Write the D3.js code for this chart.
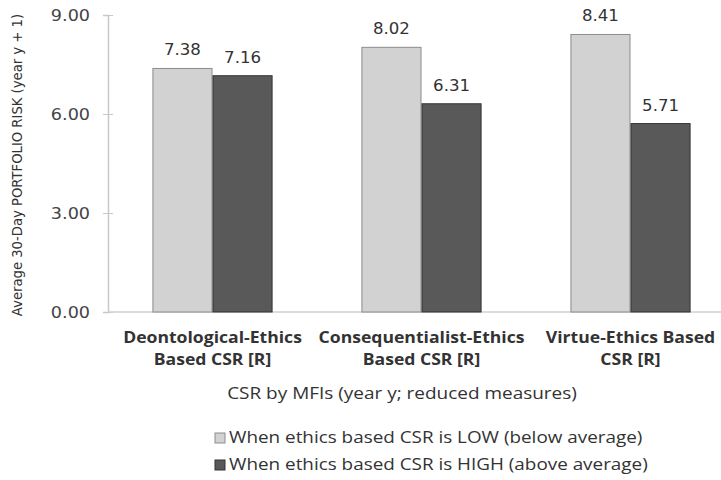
<!DOCTYPE html>
<html>
<head>
<meta charset="utf-8">
<script src="https://cdn.jsdelivr.net/npm/d3@7"></script>
<style>
body { margin: 0; background: #fff; }
</style>
</head>
<body>
<div class="canvas"></div>
<script>
const categories = [
  ["Deontological-Ethics", "Based CSR [R]"],
  ["Consequentialist-Ethics", "Based CSR [R]"],
  ["Virtue-Ethics Based", "CSR [R]"]
];
const seriesNames = [
  "When ethics based CSR is LOW (below average)",
  "When ethics based CSR is HIGH (above average)"
];
const lowValues = [7.38, 8.02, 8.41];
const highValues = [7.16, 6.31, 5.71];
const yTicks = [0, 3, 6, 9];

const w = 721, h = 480;
const margin = {top: 15, left: 108, bottom: 168};

const fills = ["#d2d2d2", "#595959"];
const strokes = ["#8c8c8c", "#333333"];

// the original picture is a bit wider than tall, so some text gets a small x stretch
const sx = 1.18;
const place = (x, y, s) => "translate(" + x + "," + y + ") scale(" + s + ",1)";

const svg = d3.select(".canvas").append("svg")
  .attr("width", w).attr("height", h);

const x0 = d3.scaleBand()
  .domain(d3.range(categories.length))
  .range([margin.left, margin.left + 3 * 209])
  .paddingInner(0.425).paddingOuter(0.2125);

const x1 = d3.scaleBand()
  .domain([0, 1])
  .range([0, x0.bandwidth()]);

const y = d3.scaleLinear()
  .domain([0, 9])
  .range([h - margin.bottom, margin.top]);

// y axis
const yAxis = svg.append("g")
  .attr("transform", "translate(" + margin.left + ",0)")
  .call(d3.axisLeft(y).tickValues(yTicks).tickFormat(d3.format(".2f")).tickSize(5).tickPadding(13));
yAxis.select(".domain").attr("stroke", "#c8c8c8").attr("stroke-width", 1.5);
yAxis.selectAll(".tick line").attr("stroke", "#c8c8c8").attr("x2", 5).attr("x1", -5);
yAxis.selectAll("text")
  .attr("font-family", "DejaVu Sans").attr("font-size", 16).attr("fill", "#444")
  .attr("transform", "translate(-18,0) scale(1.1,1)").attr("x", 0);

// baseline
svg.append("line")
  .attr("x1", margin.left).attr("x2", w)
  .attr("y1", y(0)).attr("y2", y(0))
  .attr("stroke", "#d0d0d0").attr("stroke-width", 1.5);

const rows = categories.map((c, i) => [lowValues[i], highValues[i]]);

const groups = svg.selectAll("g.grp")
  .data(rows).enter().append("g")
  .attr("class", "grp")
  .attr("transform", (d, i) => "translate(" + x0(i) + ",0)");

groups.selectAll("rect")
  .data(d => d).enter().append("rect")
  .attr("x", (d, j) => x1(j) + 0.5)
  .attr("y", d => y(d))
  .attr("width", x1.bandwidth() - 1)
  .attr("height", d => y(0) - y(d))
  .attr("fill", (d, j) => fills[j])
  .attr("stroke", (d, j) => strokes[j])
  .attr("stroke-width", 1);

groups.selectAll("text.val")
  .data(d => d).enter().append("text")
  .attr("class", "val")
  .attr("transform", (d, j) => place(x1(j) + x1.bandwidth() / 2, y(d) - 13, 1.07))
  .attr("text-anchor", "middle")
  .attr("font-family", "DejaVu Sans").attr("font-size", 15.5).attr("fill", "#333")
  .text(d => d.toFixed(2));

// category labels
categories.forEach((lines, i) => {
  lines.forEach((t, k) => {
    svg.append("text")
      .attr("transform", place(x0(i) + x0.bandwidth() / 2, 343 + k * 22, 1.1))
      .attr("text-anchor", "middle")
      .attr("font-family", "Open Sans").attr("font-weight", "bold")
      .attr("font-size", 16).attr("fill", "#333")
      .text(t);
  });
});

// axis titles
svg.append("text")
  .attr("transform", place(402, 399, 1.15))
  .attr("text-anchor", "middle")
  .attr("font-family", "Open Sans").attr("font-size", 16.5).attr("fill", "#333")
  .text("CSR by MFIs (year y; reduced measures)");

svg.append("text")
  .attr("transform", "translate(22," + 165 + ") rotate(-90)")
  .attr("text-anchor", "middle")
  .attr("font-family", "DejaVu Sans").attr("font-size", 13.2).attr("fill", "#333")
  .text("Average 30-Day PORTFOLIO RISK (year y + 1)");

// legend
const legend = svg.selectAll("g.legend")
  .data(seriesNames).enter().append("g")
  .attr("class", "legend")
  .attr("transform", (d, i) => "translate(215," + (433 + i * 27) + ")");

legend.append("rect")
  .attr("width", 10).attr("height", 10)
  .attr("fill", (d, i) => fills[i])
  .attr("stroke", (d, i) => strokes[i]);

legend.append("text")
  .attr("transform", place(14, 10, sx))
  .attr("font-family", "Open Sans").attr("font-size", 16).attr("fill", "#333")
  .text(d => d);
</script>
</body>
</html>
